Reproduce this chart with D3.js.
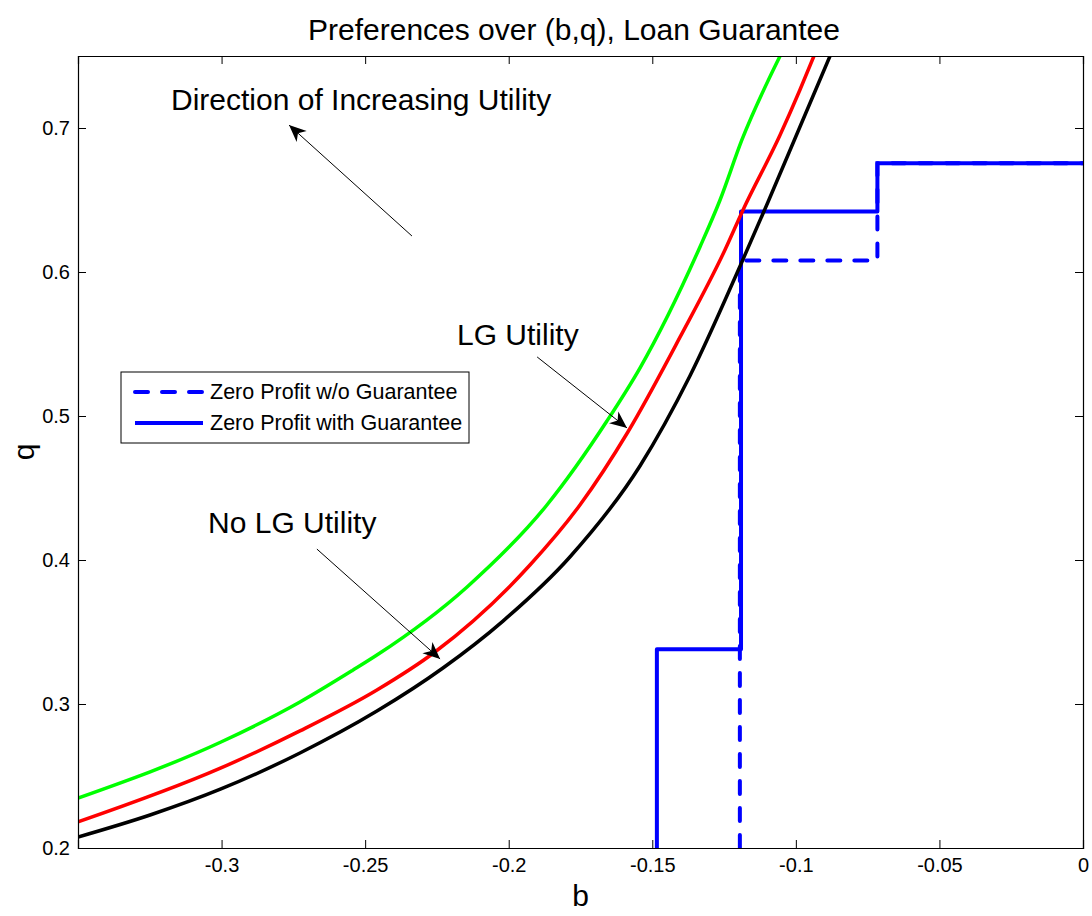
<!DOCTYPE html>
<html>
<head>
<meta charset="utf-8">
<script src="https://cdn.jsdelivr.net/npm/d3@7"></script>
<style>
  body { margin: 0; background: #fff; }
  svg text { font-family: Arial, "Liberation Sans", Helvetica, sans-serif; fill: #000; }
</style>
</head>
<body>
<svg id="chart"></svg>
<script>
// curves (b, q)
const greenB = [-0.35, -0.3002, -0.2727, -0.2542, -0.2459, -0.2145, -0.1867, -0.1658, -0.1543, -0.1334, -0.1264, -0.1188, -0.1055];
const greenQ = [0.2347, 0.2736, 0.3014, 0.3236, 0.334, 0.3813, 0.4382, 0.4965, 0.5333, 0.6174, 0.65, 0.6917, 0.75];

const redB = [-0.35, -0.3002, -0.2727, -0.2459, -0.2257, -0.1926, -0.1752, -0.1585, -0.1403, -0.1247, -0.1184, -0.1055, -0.0986, -0.0937];
const redQ = [0.2181, 0.2556, 0.2813, 0.3097, 0.3361, 0.3965, 0.4382, 0.4889, 0.5549, 0.6153, 0.6431, 0.6951, 0.7264, 0.75];

const blackB = [-0.35, -0.3249, -0.3002, -0.2727, -0.2459, -0.2229, -0.202, -0.1787, -0.1543, -0.1369, -0.1191, -0.1097, -0.0986, -0.0881];
const blackQ = [0.2076, 0.2229, 0.241, 0.266, 0.2951, 0.325, 0.3576, 0.4021, 0.4653, 0.5278, 0.6056, 0.6486, 0.7007, 0.75];

// zero profit step lines
const withB = [-0.1484, -0.1484, -0.1191, -0.1191, -0.0716, -0.0716, 0];
const withQ = [0.2, 0.338, 0.338, 0.642, 0.642, 0.6755, 0.6755];
const woB = [-0.1195, -0.1195, -0.0716, -0.0716, 0];
const woQ = [0.2, 0.608, 0.608, 0.6755, 0.6755];

const xTicks = [-0.3, -0.25, -0.2, -0.15, -0.1, -0.05, 0];
const yTicks = [0.2, 0.3, 0.4, 0.5, 0.6, 0.7];
const legendLabels = ["Zero Profit w/o Guarantee", "Zero Profit with Guarantee"];

// text notes with arrows: [text b, text q, tail b, tail q, tip b, tip q]
const noteText = ["Direction of Increasing Utility", "LG Utility", "No LG Utility"];
const notePos = [
  [-0.3176, 0.7125, -0.2337, 0.625, -0.2765, 0.702],
  [-0.218, 0.549, -0.1901, 0.541, -0.1588, 0.4917],
  [-0.3047, 0.4188, -0.2668, 0.4076, -0.2239, 0.3313]
];

let width = 1092, height = 916;
let margin = { top: 56, right: 9, bottom: 68, left: 78 };

let svg = d3.select('#chart').attr('width', width).attr('height', height);

let x = d3.scaleLinear().domain([-0.35, 0]).range([margin.left, width - margin.right]);
let y = d3.scaleLinear().domain([0.2, 0.75]).range([height - margin.bottom, margin.top]);

svg.append('clipPath').attr('id', 'plotclip')
  .append('rect')
  .attr('x', x(-0.35)).attr('y', y(0.75))
  .attr('width', x(0) - x(-0.35)).attr('height', y(0.2) - y(0.75));

let plot = svg.append('g').attr('clip-path', 'url(#plotclip)');

let line = d3.line().x(d => x(d[0])).y(d => y(d[1]));
let smooth = d3.line().x(d => x(d[0])).y(d => y(d[1])).curve(d3.curveMonotoneX);

function zip(a, b) { return a.map((v, i) => [v, b[i]]); }

// blue zero-profit lines
plot.append('path').datum(zip(woB, woQ))
  .attr('d', line).attr('fill', 'none')
  .attr('stroke', '#0000ff').attr('stroke-width', 4)
  .attr('stroke-dasharray', '13,14').attr('stroke-linecap', 'round');
plot.append('path').datum(zip(withB, withQ))
  .attr('d', line).attr('fill', 'none')
  .attr('stroke', '#0000ff').attr('stroke-width', 4)
  .attr('stroke-linejoin', 'round');

// utility curves
[[blackB, blackQ, '#000000'], [redB, redQ, '#ff0000'], [greenB, greenQ, '#00ff00']].forEach(c => {
  plot.append('path').datum(zip(c[0], c[1]))
    .attr('d', smooth).attr('fill', 'none')
    .attr('stroke', c[2]).attr('stroke-width', 3.5)
    .attr('stroke-linejoin', 'round');
});

// axes, ticks inward on all four sides
let fmt = d => d === 0 ? '0' : String(d);
let xAxis = d3.axisBottom(x).tickValues(xTicks).tickSize(-8).tickPadding(10).tickFormat(fmt);
let yAxis = d3.axisLeft(y).tickValues(yTicks).tickSize(-8).tickPadding(8).tickFormat(fmt);

let gx = svg.append('g').attr('transform', `translate(0,${y(0.2)})`).call(xAxis);
let gy = svg.append('g').attr('transform', `translate(${x(-0.35)},0)`).call(yAxis);
svg.append('g').attr('transform', `translate(0,${y(0.75)})`)
  .call(d3.axisTop(x).tickValues(xTicks).tickSize(-8).tickFormat(''));
svg.append('g').attr('transform', `translate(${x(0)},0)`)
  .call(d3.axisRight(y).tickValues(yTicks).tickSize(-8).tickFormat(''));

svg.selectAll('.domain').attr('stroke', '#000').attr('stroke-width', 1.2);
svg.selectAll('.tick line').attr('stroke', '#000');
gx.selectAll('text').attr('font-size', 20).style('font-family', 'Arial, "Liberation Sans", sans-serif');
gy.selectAll('text').attr('font-size', 20).style('font-family', 'Arial, "Liberation Sans", sans-serif');

// titles
svg.append('text').attr('x', 574).attr('y', 40).attr('text-anchor', 'middle')
  .attr('font-size', 30).text('Preferences over (b,q), Loan Guarantee');
svg.append('text').attr('x', x(-0.175)).attr('y', 906).attr('text-anchor', 'middle')
  .attr('font-size', 30).text('b');
svg.append('text').attr('transform', `translate(34,${y(0.475)}) rotate(-90)`)
  .attr('text-anchor', 'middle').attr('font-size', 30).text('q');

// notes with arrows
function arrowHead(x1, y1, x2, y2) {
  let a = Math.atan2(y2 - y1, x2 - x1);
  let len = 17, hw = 7.5, ind = 5;
  let bx = x2 - len * Math.cos(a), by = y2 - len * Math.sin(a);
  let nx = -Math.sin(a), ny = Math.cos(a);
  let mx = x2 - (len - ind) * Math.cos(a), my = y2 - (len - ind) * Math.sin(a);
  return `M${x2},${y2}L${bx + nx * hw},${by + ny * hw}L${mx},${my}L${bx - nx * hw},${by - ny * hw}Z`;
}

noteText.forEach((t, i) => {
  let p = notePos[i];
  svg.append('text').attr('x', x(p[0])).attr('y', y(p[1]))
    .attr('font-size', 30).text(t);
  svg.append('line')
    .attr('x1', x(p[2])).attr('y1', y(p[3]))
    .attr('x2', x(p[4])).attr('y2', y(p[5]))
    .attr('stroke', '#000').attr('stroke-width', 1);
  svg.append('path').attr('d', arrowHead(x(p[2]), y(p[3]), x(p[4]), y(p[5])))
    .attr('fill', '#000');
});

// legend
let lg = svg.append('g').attr('transform', 'translate(121,372)');
lg.append('rect').attr('width', 348).attr('height', 71)
  .attr('fill', '#fff').attr('stroke', '#000').attr('stroke-width', 1);
legendLabels.forEach((t, i) => {
  let ly = 20 + i * 31;
  lg.append('line').attr('x1', 14).attr('x2', 82).attr('y1', ly).attr('y2', ly)
    .attr('stroke', '#0000ff').attr('stroke-width', 4)
    .attr('stroke-dasharray', i === 0 ? '13,14' : null)
    .attr('stroke-linecap', i === 0 ? 'round' : 'butt');
  lg.append('text').attr('x', 89).attr('y', ly + 7).attr('font-size', 21.5).text(t);
});
</script>
</body>
</html>
